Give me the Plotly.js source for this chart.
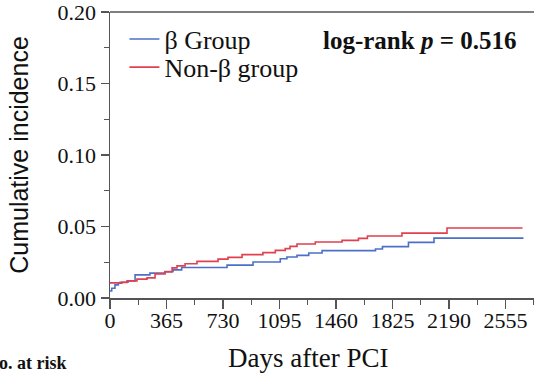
<!DOCTYPE html>
<html>
<head>
<meta charset="utf-8">
<script src="https://cdn.plot.ly/plotly-3.0.1.min.js"></script>
<style>html,body{margin:0;padding:0;background:#fff;}#chart{width:534px;height:375px;}</style>
</head>
<body>
<div id="chart"></div>
<script>
// Cumulative incidence (step curves), days after PCI
const betaDays = [0, 11, 32, 54, 76, 116, 162, 258, 355, 407, 463, 756, 924, 1100, 1143, 1208, 1284, 1370, 1715, 1760, 1928, 2093, 2671];
const betaInc  = [0.0049, 0.0068, 0.0092, 0.0103, 0.0110, 0.0120, 0.0162, 0.0174, 0.0185, 0.0197, 0.0213, 0.0230, 0.0252, 0.0275, 0.0287, 0.0298, 0.0315, 0.0331, 0.0343, 0.0359, 0.0389, 0.0419, 0.0419];
const nonBetaDays = [0, 65, 110, 174, 239, 291, 355, 401, 433, 485, 562, 698, 762, 853, 988, 1068, 1132, 1163, 1208, 1326, 1499, 1605, 1663, 1886, 2177, 2665];
const nonBetaInc  = [0.0106, 0.0109, 0.0120, 0.0132, 0.0141, 0.0169, 0.0183, 0.0211, 0.0225, 0.0239, 0.0256, 0.0272, 0.0284, 0.0303, 0.0317, 0.0333, 0.0345, 0.0361, 0.0378, 0.0392, 0.0403, 0.0417, 0.0434, 0.0454, 0.0489, 0.0489];
const xTicks = [0, 365, 730, 1095, 1460, 1825, 2190, 2555];
const yTicks = [0.00, 0.05, 0.10, 0.15, 0.20];
const seriesNames = ["\u03b2 Group", "Non-\u03b2 group"];

const serif = "Liberation Serif, Times New Roman, serif";
const sans = "Liberation Sans, Arial, sans-serif";
const axisColor = "#555555";
const legendFont = {family: serif, size: 26, color: "#111"};

const traces = [
  {x: betaDays, y: betaInc, name: seriesNames[0], type: "scatter", mode: "lines", legend: "legend",
   line: {shape: "hv", color: "#4c70c8", width: 1.6}},
  {x: nonBetaDays, y: nonBetaInc, name: seriesNames[1], type: "scatter", mode: "lines", legend: "legend2",
   line: {shape: "hv", color: "#e0404f", width: 1.6}}
];

const layout = {
  width: 534, height: 375,
  margin: {l: 110, r: 0, t: 12, b: 77},
  paper_bgcolor: "#fff", plot_bgcolor: "#fff",
  showlegend: true,
  legend: {x: 0.034, y: 0.905, xanchor: "left", yanchor: "middle", bgcolor: "rgba(0,0,0,0)", font: legendFont},
  legend2: {x: 0.034, y: 0.807, xanchor: "left", yanchor: "middle", bgcolor: "rgba(0,0,0,0)", font: legendFont},
  xaxis: {
    range: [0, 2739], tickmode: "array", tickvals: xTicks, ticktext: xTicks.map(String),
    ticks: "outside", ticklen: 9, tickwidth: 1.5, tickcolor: axisColor,
    minor: {tickmode: "array", tickvals: xTicks.map(v => v + 182.5), ticks: "outside", ticklen: 5, tickwidth: 1.2, tickcolor: axisColor},
    showline: true, linecolor: axisColor, linewidth: 1.5, showgrid: false, zeroline: false,
    ticklabeloverflow: "allow", ticklabelstandoff: -7,
    tickfont: {family: serif, size: 22, color: "#111"}
  },
  yaxis: {
    range: [0, 0.2], tickmode: "array", tickvals: yTicks, ticktext: yTicks.map(v => v.toFixed(2)),
    ticks: "outside", ticklen: 8, tickwidth: 1.5, tickcolor: axisColor,
    minor: {tickmode: "array", tickvals: [0.025, 0.075, 0.125, 0.175], ticks: "outside", ticklen: 5, tickwidth: 1.2, tickcolor: axisColor},
    showline: true, linecolor: axisColor, linewidth: 1.5, showgrid: false, zeroline: false,
    ticklabeloverflow: "allow",
    tickfont: {family: serif, size: 22, color: "#111"},
    title: {text: "Cumulative incidence", font: {family: sans, size: 25, color: "#111"}, standoff: 22}
  },
  shapes: [
    {type: "line", xref: "paper", yref: "paper", x0: 0, x1: 1, y0: 1, y1: 1, line: {color: axisColor, width: 1.5}}
  ],
  annotations: [
    {xref: "paper", yref: "paper", x: 0.962, y: 0.902, xanchor: "right", yanchor: "middle", showarrow: false,
     text: "<b>log-rank <i>p</i> = 0.516</b>", font: {family: serif, size: 25, color: "#111"}},
    {xref: "paper", yref: "paper", x: 0.466, y: -0.21, xanchor: "center", yanchor: "middle", showarrow: false,
     text: "Days after PCI", font: {family: serif, size: 27, color: "#111"}},
    {xref: "paper", yref: "paper", x: -0.0967, y: -0.227, xanchor: "right", yanchor: "middle", showarrow: false,
     text: "<b>No. at risk</b>", font: {family: serif, size: 18, color: "#111"}}
  ]
};

Plotly.newPlot("chart", traces, layout, {displayModeBar: false, staticPlot: true});
</script>
</body>
</html>
